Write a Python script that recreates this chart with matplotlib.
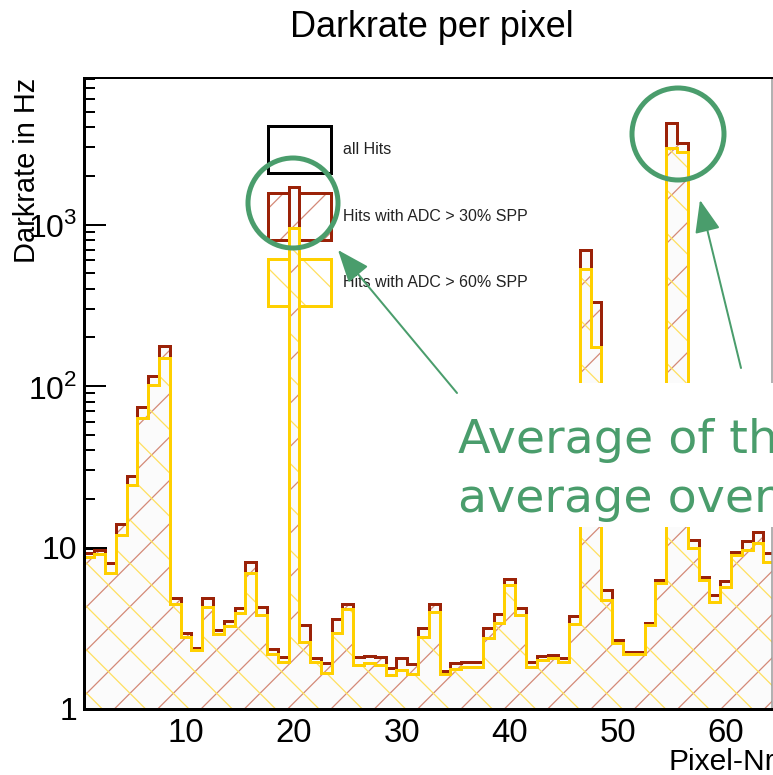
import numpy as np
import matplotlib
matplotlib.use('Agg')
import matplotlib.pyplot as plt
from matplotlib.patches import Rectangle, Ellipse, FancyArrowPatch
from matplotlib.ticker import FixedLocator, FixedFormatter, MultipleLocator, LogLocator, NullFormatter

# dark rate per pixel in Hz, pixels 1..64
rate_all = [9.9, 9.9, 8.05, 13.9, 27.7, 74, 115, 177, 4.87, 2.94,
            2.38, 4.85, 3.1, 3.52, 4.2, 8.17, 4.26, 2.34, 2.09, 1707,
            3.31, 2.08, 1.93, 3.59, 4.47, 2.11, 2.13, 2.11, 1.8, 2.08,
            1.9, 3.19, 4.45, 1.73, 1.92, 1.96, 1.96, 3.16, 3.86, 6.35,
            4.2, 1.96, 2.14, 2.16, 2.06, 3.75, 700, 333, 5.46, 2.67,
            2.26, 2.26, 3.42, 6.29, 4270, 3185, 11.2, 6.6, 5.08, 6.23,
            9.42, 10.9, 12.4, 9.2]
rate_adc30 = [9.3, 9.6, 8.05, 13.9, 27.7, 74, 115, 177, 4.87, 2.94,
              2.38, 4.85, 3.1, 3.52, 4.2, 8.17, 4.26, 2.34, 2.09, 1707,
              3.31, 2.08, 1.93, 3.59, 4.47, 2.11, 2.13, 2.11, 1.8, 2.08,
              1.9, 3.19, 4.45, 1.73, 1.92, 1.96, 1.96, 3.16, 3.86, 6.35,
              4.2, 1.96, 2.14, 2.16, 2.06, 3.75, 700, 333, 5.46, 2.67,
              2.26, 2.26, 3.42, 6.29, 4270, 3185, 11.2, 6.6, 5.08, 6.23,
              9.42, 10.9, 12.4, 9.2]
rate_adc60 = [8.7, 9.1, 6.95, 12.0, 24.4, 63, 101, 149, 4.47, 2.8,
              2.32, 4.26, 2.9, 3.26, 3.95, 6.92, 3.82, 2.19, 1.96, 950,
              2.61, 1.96, 1.66, 2.94, 4.14, 1.87, 1.93, 1.87, 1.62, 1.74,
              1.65, 2.78, 4.0, 1.65, 1.77, 1.83, 1.83, 2.74, 3.39, 5.86,
              3.82, 1.83, 2.01, 2.06, 1.96, 3.35, 530, 175, 4.73, 2.55,
              2.19, 2.19, 3.31, 6.0, 2965, 2825, 9.89, 6.29, 4.62, 5.67,
              8.99, 9.66, 10.6, 8.17]
labels = ['all Hits', 'Hits with ADC > 30% SPP', 'Hits with ADC > 60% SPP']

DPI = 130
W, H = 773, 775


def pt(px):
    return px * 72.0 / DPI


plt.rcParams['font.family'] = ['Liberation Sans', 'DejaVu Sans']
plt.rcParams['mathtext.fontset'] = 'custom'
plt.rcParams['mathtext.rm'] = 'Liberation Sans'
plt.rcParams['hatch.linewidth'] = 0.7

red_line, red_hatch = '#9b2208', '#d48a78'
yel_line, yel_hatch = '#ffd000', '#ffe060'
green = '#4a9d6c'

fig = plt.figure(figsize=(W / DPI, H / DPI), dpi=DPI)
ax = fig.add_axes([83.5 / W, (H - 709) / H, 688.5 / W, 631 / H])

edges = np.arange(0.5, len(rate_all) + 1, 1.0)
ax.stairs(rate_adc30, edges, baseline=1, fill=True, facecolor='#fbfbfb',
          edgecolor=red_hatch, hatch='/', lw=0, zorder=2)
ax.stairs(rate_adc60, edges, baseline=1, fill=True, facecolor='none',
          edgecolor=yel_hatch, hatch='\\', lw=0, zorder=2.1)
ax.stairs(rate_all, edges, baseline=1, color='black', lw=pt(3), zorder=2.2)
ax.stairs(rate_adc30, edges, baseline=1, color=red_line, lw=pt(3), zorder=2.3)
ax.stairs(rate_adc60, edges, baseline=1, color=yel_line, lw=pt(3), zorder=2.4)

ax.set_yscale('log')
ax.set_xlim(0.5, 64.3)
ax.set_ylim(1, 8075)

ax.xaxis.set_major_locator(MultipleLocator(10))
ax.xaxis.set_minor_locator(MultipleLocator(2))
ax.yaxis.set_major_locator(FixedLocator([1, 10, 100, 1000]))
ax.yaxis.set_major_formatter(FixedFormatter(['1', '10', r'$10^{2}$', r'$10^{3}$']))
ax.yaxis.set_minor_locator(LogLocator(base=10, subs=np.arange(2, 10)))
ax.yaxis.set_minor_formatter(NullFormatter())

ax.tick_params(which='both', direction='in', top=False, right=False, color='black')
ax.tick_params(axis='x', which='major', length=pt(17), width=pt(2), pad=pt(9), labelsize=pt(33))
ax.tick_params(axis='x', which='minor', length=pt(8), width=pt(2))
ax.tick_params(axis='y', which='major', length=pt(22), width=pt(2), pad=pt(6), labelsize=pt(32))
ax.tick_params(axis='y', which='minor', length=pt(11), width=pt(2))

ax.spines['left'].set_linewidth(pt(3))
ax.spines['bottom'].set_linewidth(pt(3))
ax.spines['top'].set_linewidth(pt(2))
ax.spines['right'].set_linewidth(pt(1.5))
ax.spines['right'].set_color('#999999')

ax.set_xlabel('Pixel-Nr', loc='right', fontsize=pt(30))
ax.xaxis.set_label_coords(1.004, -0.062)
ax.set_ylabel('Darkrate in Hz', loc='top', fontsize=pt(29))
ax.yaxis.set_label_coords(-0.062, 1.0)

# legend boxes, ROOT style
box_x, box_w, box_h = 0.2680, 0.0915, 0.0745
rows = [0.8494, 0.7433, 0.6387]
styles = [
    dict(edgecolor='black', hatch=None, hc=None),
    dict(edgecolor=red_line, hatch='/', hc=red_hatch),
    dict(edgecolor=yel_line, hatch='\\', hc=yel_hatch),
]
for y0, st, lab in zip(rows, styles, labels):
    if st['hatch']:
        ax.add_patch(Rectangle((box_x, y0), box_w, box_h, transform=ax.transAxes,
                               facecolor='none', edgecolor=st['hc'], hatch=st['hatch'],
                               lw=0, zorder=1.5))
    ax.add_patch(Rectangle((box_x, y0), box_w, box_h, transform=ax.transAxes,
                           facecolor='none', edgecolor=st['edgecolor'], lw=pt(3), zorder=1.6))
    ax.text(0.3770, y0 + box_h / 2, lab, transform=ax.transAxes, ha='left', va='center',
            fontsize=pt(16), color='#222222')

fig.text(431.5 / W, 1 - 37 / H, 'Darkrate per pixel', ha='center', va='baseline',
         fontsize=pt(36))

# annotation overlay
fig.add_artist(Rectangle((455 / W, 1 - 527 / H), (W - 455) / W + 0.01, (527 - 383) / H,
                         transform=fig.transFigure, facecolor='white', edgecolor='none',
                         zorder=10))
for (cx, cy, r) in [(293, 203, 45), (678, 134, 46)]:
    fig.add_artist(Ellipse((cx / W, 1 - cy / H), 2 * r / W, 2 * r / H,
                           transform=fig.transFigure, fill=False, edgecolor=green,
                           lw=pt(5), zorder=11))
for (x0, y0, x1, y1) in [(457, 393, 338, 250), (741, 368, 700, 200)]:
    fig.add_artist(FancyArrowPatch((x0 / W, 1 - y0 / H), (x1 / W, 1 - y1 / H),
                                   transform=fig.transFigure,
                                   arrowstyle=f'-|>,head_length={pt(28)},head_width={pt(11)}',
                                   mutation_scale=1, color=green, lw=pt(2),
                                   shrinkA=0, shrinkB=0, zorder=11))
fig.text(458 / W, 1 - 453 / H, 'Average of the', color=green, fontsize=pt(47.5),
         family='DejaVu Sans', va='baseline', zorder=12)
fig.text(458 / W, 1 - 512 / H, 'average over', color=green, fontsize=pt(47.5),
         family='DejaVu Sans', va='baseline', zorder=12)

fig.savefig('out.png', dpi=DPI)
